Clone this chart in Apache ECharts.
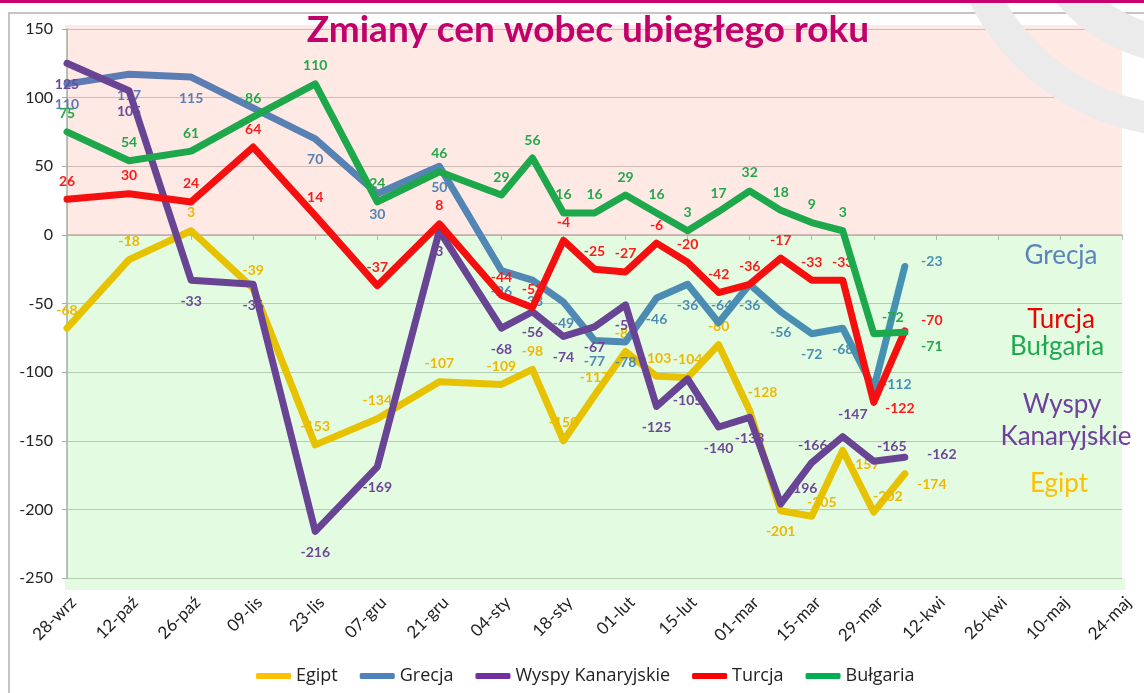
<!DOCTYPE html>
<html><head><meta charset="utf-8">
<script src="https://cdn.jsdelivr.net/npm/echarts@6/dist/echarts.min.js"></script>
<style>html,body{margin:0;padding:0;background:#fff;}#c{width:1144px;height:693px;}</style>
</head><body><div id="c"></div>
<script>
// ---- data ----
const categories = ['28-wrz','05-paź','12-paź','19-paź','26-paź','02-lis','09-lis','16-lis','23-lis','30-lis',
  '07-gru','14-gru','21-gru','28-gru','04-sty','11-sty','18-sty','25-sty','01-lut','08-lut',
  '15-lut','22-lut','01-mar','08-mar','15-mar','22-mar','29-mar','05-kwi','12-kwi','19-kwi',
  '26-kwi','03-maj','10-maj','17-maj','24-maj'];
const seriesNames = ['Egipt','Grecja','Wyspy Kanaryjskie','Turcja','Bułgaria'];
const egipt =   [-68,null,-18,null,3,null,-39,null,-153,null,-134,null,-107,null,-109,-98,-150,-117,-85,-103,-104,-80,-128,-201,-205,-157,-202,-174,null,null,null,null,null,null,null];
const grecja =  [110,null,117,null,115,null,null,null,70,null,30,null,50,null,-26,-33,-49,-77,-78,-46,-36,-64,-36,-56,-72,-68,-112,-23,null,null,null,null,null,null,null];
const wyspy =   [125,null,105,null,-33,null,-36,null,-216,null,-169,null,3,null,-68,-56,-74,-67,-51,-125,-105,-140,-133,-196,-166,-147,-165,-162,null,null,null,null,null,null,null];
const turcja =  [26,null,30,null,24,null,64,null,14,null,-37,null,8,null,-44,-53,-4,-25,-27,-6,-20,-42,-36,-17,-33,-33,-122,-70,null,null,null,null,null,null,null];
const bulgaria =[75,null,54,null,61,null,86,null,110,null,24,null,46,null,29,56,16,16,29,16,3,17,32,18,9,3,-72,-71,null,null,null,null,null,null,null];
const yMin = -250, yMax = 150, yStep = 50;

// ---- styles ----
const lineColors = {
  'Egipt': '#E6C200',
  'Grecja': null,
  'Wyspy Kanaryjskie': '#6A4494',
  'Turcja': '#F50F0F',
  'Bułgaria': '#1EA84C'
};
const labelColors = {
  'Egipt': '#EDB800',
  'Wyspy Kanaryjskie': '#6D4599',
  'Turcja': '#FF1A1A',
  'Bułgaria': '#22A84B'
};
const legendColors = {'Egipt':'#FFC000','Grecja':'#4F81BD','Wyspy Kanaryjskie':'#7030A0','Turcja':'#FF0000','Bułgaria':'#00B050'};
const labelDy = {'Egipt':-18,'Grecja':21,'Wyspy Kanaryjskie':21,'Turcja':-18,'Bułgaria':-18};
const labelOverrides = {
  'Egipt': {22:[13,-18],23:[0,21],24:[10,-14],25:[22,14],26:[14,-16],27:[27,11]},
  'Grecja': {21:[3,-17],26:[23,-4],27:[27,-5]},
  'Wyspy Kanaryjskie': {23:[22,-15],24:[1,-17],25:[10,-22],26:[18,-15],27:[37,-3]},
  'Turcja': {26:[26,6],27:[27,-10]},
  'Bułgaria': {26:[19,-16],27:[27,14]}
};
const pinkFill = 'rgba(250,110,80,0.15)';
const greenFill = 'rgba(40,230,20,0.13)';
function lerpColor(a, b, t) {
  const pa = [1,3,5].map(i => parseInt(a.substr(i,2),16));
  const pb = [1,3,5].map(i => parseInt(b.substr(i,2),16));
  return 'rgb(' + pa.map((v,k) => Math.round(v + (pb[k]-v)*t)).join(',') + ')';
}
const grecjaStart = '#5F7AB4', grecjaEnd = '#4592B2';

function buildData(name, values) {
  return values.map((v, i) => {
    if (v === null) return '-';
    const off = (labelOverrides[name] && labelOverrides[name][i]) || [0, labelDy[name]];
    const item = { value: v, label: { offset: off } };
    if (name === 'Grecja') item.label.color = lerpColor(grecjaStart, grecjaEnd, i / 27);
    return item;
  });
}

const chart = echarts.init(document.getElementById('c'));
const allValues = [egipt, grecja, wyspy, turcja, bulgaria];
const series = [{
  name: 'bg', type: 'line', data: [], silent: true, z: 1,
  markArea: {
    silent: true,
    data: [
      [{ yAxis: 0, itemStyle: { color: pinkFill } }, { yAxis: yMax }],
      [{ yAxis: yMin, itemStyle: { color: greenFill } }, { yAxis: 0 }]
    ]
  }
}];
seriesNames.forEach((name, k) => {
  const color = name === 'Grecja'
    ? new echarts.graphic.LinearGradient(0, 0, 1, 0, [{ offset: 0, color: grecjaStart }, { offset: 1, color: grecjaEnd }])
    : lineColors[name];
  series.push({
    name: name, type: 'line', data: buildData(name, allValues[k]),
    connectNulls: true, showSymbol: true, showAllSymbol: true,
    symbol: 'circle', symbolSize: 2, z: 2 + k,
    lineStyle: { width: 7, color: color, join: 'round', cap: 'round' },
    itemStyle: { color: name === 'Grecja' ? '#5385b3' : lineColors[name] },
    label: {
      show: true, position: 'inside', fontFamily: 'Lato', fontWeight: 'bold', fontSize: 14,
      color: labelColors[name] || '#5385b3'
    },
    emphasis: { disabled: true }
  });
});

const axisFont = { fontFamily: 'Lato', color: '#222' };
chart.setOption({
  animation: false,
  backgroundColor: '#ffffff',
  title: {
    text: 'Zmiany cen wobec ubiegłego roku', left: 583, top: 7, textAlign: 'center',
    textStyle: { fontFamily: 'Lato', fontWeight: 'bold', fontSize: 37, color: '#C2006B' }
  },
  grid: { left: 67, right: 22, top: 29, bottom: 115, containLabel: false },
  legend: {
    data: seriesNames.map(n => ({ name: n, itemStyle: { color: legendColors[n] } })),
    icon: 'roundRect', itemWidth: 35, itemHeight: 6, itemGap: 22,
    left: 251, bottom: 3,
    textStyle: { fontFamily: 'Open Sans', fontSize: 18, color: '#222' }
  },
  xAxis: [{
    type: 'category', data: categories, boundaryGap: false, position: 'bottom',
    axisLine: { show: false, onZero: false }, axisTick: { show: false },
    axisLabel: { interval: 1, rotate: 45, margin: 28, padding: [0, -9, 0, 0], fontSize: 17, ...axisFont },
    splitLine: { show: false }
  }, {
    type: 'category', data: categories, boundaryGap: false, position: 'bottom',
    axisLine: { show: true, onZero: true, lineStyle: { color: '#b8b8b8', width: 1.5 } },
    axisTick: { show: true, interval: 1, length: 5, lineStyle: { color: '#b8b8b8' } },
    axisLabel: { show: false }, splitLine: { show: false }
  }],
  yAxis: {
    type: 'value', min: yMin, max: yMax, interval: yStep,
    axisLine: { show: true, lineStyle: { color: '#9fb09f', width: 1.5 } },
    axisTick: { show: true, length: 5, lineStyle: { color: '#9fb09f' } },
    axisLabel: { margin: 14, fontSize: 16, ...axisFont },
    splitLine: { lineStyle: { color: '#c9c9c9', width: 1.2 } }
  },
  series: series
});

// background fringe above/below the plot, derived from the axis scale
const yTop = chart.convertToPixel({ yAxisIndex: 0 }, yMax);
const yBot = chart.convertToPixel({ yAxisIndex: 0 }, yMin);
const xL = chart.convertToPixel({ xAxisIndex: 0 }, 0);
const xR = chart.convertToPixel({ xAxisIndex: 0 }, categories.length - 1);
chart.setOption({
  graphic: [
    { type: 'rect', shape: { x: xL - 2, y: yTop - 4, width: xR - xL + 5, height: 4 }, style: { fill: pinkFill }, z: 0, silent: true },
    { type: 'rect', shape: { x: xL - 2, y: yBot, width: xR - xL + 5, height: 12 }, style: { fill: greenFill }, z: 0, silent: true },
    { type: 'rect', shape: { x: 0, y: 0, width: 1144, height: 3 }, style: { fill: '#C8006E' }, z: 20 },
    { type: 'polyline', shape: { points: [[9, 693], [9, 13], [1144, 13]] }, style: { stroke: '#c4c4c4', lineWidth: 2, fill: null }, z: 5 },
    { type: 'ring', shape: { cx: 1187, cy: -106, r: 243, r0: 211 }, style: { fill: '#ebebeb' }, z: 10, silent: true },
    { type: 'ring', shape: { cx: 1187, cy: -106, r: 170, r0: 134 }, style: { fill: '#ebebeb' }, z: 10, silent: true },
    { type: 'text', style: { text: 'Grecja', x: 1061, y: 256, textAlign: 'center', textVerticalAlign: 'middle', font: '26px Lato', fill: '#5A84BA' }, z: 10 },
    { type: 'text', style: { text: 'Turcja', x: 1061, y: 320, textAlign: 'center', textVerticalAlign: 'middle', font: '26px Lato', fill: '#F00000' }, z: 10 },
    { type: 'text', style: { text: 'Bułgaria', x: 1057, y: 347, textAlign: 'center', textVerticalAlign: 'middle', font: '26px Lato', fill: '#1EA850' }, z: 10 },
    { type: 'text', style: { text: 'Wyspy', x: 1062, y: 405, textAlign: 'center', textVerticalAlign: 'middle', font: '26px Lato', fill: '#7040A0' }, z: 10 },
    { type: 'text', style: { text: 'Kanaryjskie', x: 1066, y: 437, textAlign: 'center', textVerticalAlign: 'middle', font: '26px Lato', fill: '#7040A0' }, z: 10 },
    { type: 'text', style: { text: 'Egipt', x: 1059, y: 484, textAlign: 'center', textVerticalAlign: 'middle', font: '26px Lato', fill: '#FFC000' }, z: 10 }
  ]
});
</script></body></html>
